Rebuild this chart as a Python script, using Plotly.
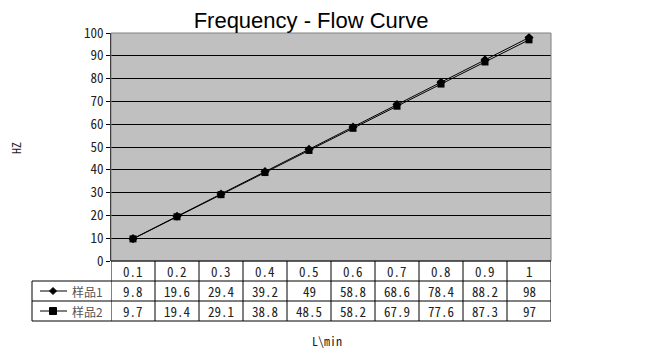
import plotly.graph_objects as go

# ---- data ----
flow = ["0.1", "0.2", "0.3", "0.4", "0.5", "0.6", "0.7", "0.8", "0.9", "1"]
sample1 = [9.8, 19.6, 29.4, 39.2, 49, 58.8, 68.6, 78.4, 88.2, 98]
sample2 = [9.7, 19.4, 29.1, 38.8, 48.5, 58.2, 67.9, 77.6, 87.3, 97]
series_names = ["样品1", "样品2"]
y_ticks = [0, 10, 20, 30, 40, 50, 60, 70, 80, 90, 100]

# ---- geometry (screen pixels; page body has an 8px margin) ----
OFF = 8
FW, FH = 649 - OFF, 355 - OFF
L, R, T, B = 111, 551, 33, 261          # plot area in screen pixels
W, H = R - L, B - T


def px2x(px):
    return (px - L) / W


def px2y(py):
    return (B - py) / H


TFONT = "Noto Sans Mono CJK SC, SimSun, Liberation Mono, monospace"
CJK = "Noto Sans CJK SC, SimSun, sans-serif"
TXT = "#222222"

fig = go.Figure()
fig.add_trace(go.Scatter(x=flow, y=sample1, name=series_names[0], mode="lines+markers",
                         line=dict(color="black", width=1),
                         marker=dict(symbol="diamond", size=7, color="black"),
                         showlegend=False, cliponaxis=False))
fig.add_trace(go.Scatter(x=flow, y=sample2, name=series_names[1], mode="lines+markers",
                         line=dict(color="black", width=1),
                         marker=dict(symbol="square", size=7, color="black"),
                         showlegend=False, cliponaxis=False))

shapes = []
shapes.append(dict(type="rect", xref="paper", yref="paper", x0=0, x1=1, y0=0, y1=1,
                   line=dict(color="#808080", width=1), layer="above"))
row_edges = [261, 281, 301, 321]
line_k = dict(color="black", width=1)
shapes.append(dict(type="line", xref="paper", yref="paper", x0=0, x1=1,
                   y0=px2y(261), y1=px2y(261), line=line_k))
for ry in row_edges[1:]:
    shapes.append(dict(type="line", xref="paper", yref="paper", x0=px2x(32), x1=1,
                       y0=px2y(ry), y1=px2y(ry), line=line_k))
for i in range(len(flow) + 1):
    shapes.append(dict(type="line", xref="x", yref="paper", x0=i - 0.5, x1=i - 0.5,
                       y0=px2y(261), y1=px2y(321), line=line_k))
shapes.append(dict(type="line", xref="paper", yref="paper", x0=px2x(32), x1=px2x(32),
                   y0=px2y(281), y1=px2y(321), line=line_k))

for r, sym in enumerate(["diamond", "square"]):
    cy = (row_edges[r + 1] + row_edges[r + 2]) / 2
    shapes.append(dict(type="line", xref="paper", yref="paper", x0=px2x(40), x1=px2x(67),
                       y0=px2y(cy), y1=px2y(cy), line=line_k))
    cx = 53
    d = 3.5
    if sym == "diamond":
        path = "M {} {} L {} {} L {} {} L {} {} Z".format(
            px2x(cx), px2y(cy - d), px2x(cx + d), px2y(cy), px2x(cx), px2y(cy + d),
            px2x(cx - d), px2y(cy))
        shapes.append(dict(type="path", xref="paper", yref="paper", path=path,
                           fillcolor="black", line=dict(color="black", width=1)))
    else:
        shapes.append(dict(type="rect", xref="paper", yref="paper",
                           x0=px2x(cx - d), x1=px2x(cx + d), y0=px2y(cy + d), y1=px2y(cy - d),
                           fillcolor="black", line=dict(color="black", width=1)))

annotations = []
row_vals = [flow, [f"{v:g}" for v in sample1], [f"{v:g}" for v in sample2]]
for r, vals in enumerate(row_vals):
    cy = (row_edges[r] + row_edges[r + 1]) / 2
    for i, v in enumerate(vals):
        annotations.append(dict(x=i, y=px2y(cy), xref="x", yref="paper", text=v,
                                showarrow=False, xanchor="center", yanchor="middle",
                                font=dict(family=TFONT, size=13, color=TXT)))
for r, nm in enumerate(series_names):
    cy = (row_edges[r + 1] + row_edges[r + 2]) / 2
    annotations.append(dict(x=px2x(70), y=px2y(cy), xref="paper", yref="paper", text=nm,
                            showarrow=False, xanchor="left", yanchor="middle",
                            font=dict(family=CJK, size=12, color="#555555")))
annotations.append(dict(x=px2x(15), y=px2y(148), xref="paper", yref="paper", text="HZ",
                        textangle=-90, showarrow=False, xanchor="center", yanchor="middle",
                        font=dict(family=TFONT, size=12, color=TXT)))
annotations.append(dict(x=px2x(327), y=px2y(340), xref="paper", yref="paper", text="L\\min",
                        showarrow=False, xanchor="center", yanchor="middle",
                        font=dict(family=TFONT, size=12, color=TXT)))

fig.update_layout(
    width=FW, height=FH,
    margin=dict(l=L - OFF, r=649 - R, t=T - OFF, b=355 - B, autoexpand=False),
    paper_bgcolor="white", plot_bgcolor="#C0C0C0",
    title=dict(text="Frequency - Flow Curve", x=(311 - OFF) / FW, xanchor="center",
               xref="container", yref="container", y=1 - (20 - OFF) / FH, yanchor="middle",
               font=dict(family="Liberation Sans, Arial, sans-serif", size=22, color="black")),
    xaxis=dict(type="category", categoryorder="array", categoryarray=flow,
               range=[-0.5, len(flow) - 0.5], showticklabels=False, ticks="",
               showgrid=False, zeroline=False, showline=False),
    yaxis=dict(range=[0, 100], tickvals=y_ticks, ticks="outside", ticklen=4,
               tickcolor="black", showgrid=True, gridcolor="black", gridwidth=1,
               zeroline=False, showline=True, linecolor="black", linewidth=1,
               tickfont=dict(family=TFONT, size=13, color=TXT)),
    shapes=shapes, annotations=annotations, showlegend=False,
)

fig.write_html("out.html")
